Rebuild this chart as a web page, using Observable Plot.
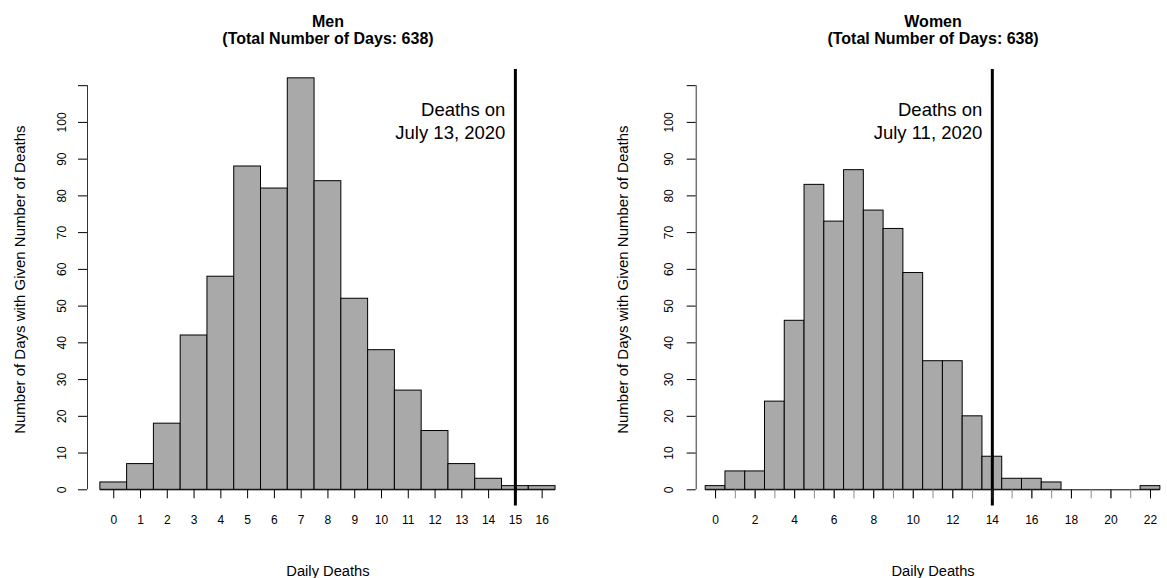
<!DOCTYPE html>
<html><head><meta charset="utf-8">
<script src="https://cdn.jsdelivr.net/npm/d3@7"></script>
<script src="https://cdn.jsdelivr.net/npm/@observablehq/plot@0.6"></script>
<style>
body{margin:0;background:#fff;}
#wrap{display:flex;width:1167px;height:578px;overflow:hidden;}
svg{font-family:"Liberation Sans",Arial,Helvetica,sans-serif;}
</style>
</head><body><div id="wrap"></div>
<script>
// ---- data ----
const menCategories = [0,1,2,3,4,5,6,7,8,9,10,11,12,13,14,15,16];
const menCounts     = [2,7,18,42,58,88,82,112,84,52,38,27,16,7,3,1,1];
const womenCategories = [0,1,2,3,4,5,6,7,8,9,10,11,12,13,14,15,16,17,18,19,20,21,22];
const womenCounts     = [1,5,5,24,46,83,73,87,76,71,59,35,35,20,9,3,3,2,0,0,0,0,1];
const menMarker = 15;
const womenMarker = 14;
const menMarkerLabel = "Deaths on\nJuly 13, 2020";
const womenMarkerLabel = "Deaths on\nJuly 11, 2020";
const menTitle = "Men\n(Total Number of Days: 638)";
const womenTitle = "Women\n(Total Number of Days: 638)";
const menXTicks = [0,1,2,3,4,5,6,7,8,9,10,11,12,13,14,15,16];
const womenXMinorTicks = [0,1,2,3,4,5,6,7,8,9,10,11,12,13,14,15,16,17,18,19,20,21,22];
const womenXMajorTicks = [0,2,4,6,8,10,12,14,16,18,20,22];
const yTicks = [0,10,20,30,40,50,60,70,80,90,100,110];
const yTickLabels = [0,10,20,30,40,50,60,70,80,90,100];
const yMax = 110;
const xLabel = "Daily Deaths";
const yLabel = "Number of Days with Given Number of Deaths";

function panel(cfg) {
  const data = cfg.cats.map((c, i) => ({c, n: cfg.counts[i]}));
  const lo = d3.min(cfg.cats) - 0.5, hi = d3.max(cfg.cats) + 0.5;
  const mid = (lo + hi) / 2;
  const pad = 0.04 * yMax;
  const axisPos = cfg.xDomain[0];
  const FONT = "Liberation Sans, Arial, sans-serif";
  const marks = [
    Plot.ruleY([0], {x1: lo, x2: hi, stroke: "black", strokeWidth: 1}),
    Plot.rectY(data, {x1: d => d.c - 0.5, x2: d => d.c + 0.5, y1: 0, y2: "n",
      fill: "#A9A9A9", stroke: "black", strokeWidth: 1}),
    Plot.ruleX([axisPos], {y1: 0, y2: yMax, stroke: "#333", strokeWidth: 1}),
    Plot.axisY({ticks: yTicks, tickSize: 9, tickFormat: () => "", label: null}),
    Plot.text(yTickLabels, {x: axisPos, y: d => d, text: d => String(d), rotate: -90,
      dx: cfg.yTickDx, textAnchor: "middle", lineAnchor: "bottom", fontSize: 12, fill: "black"}),
    Plot.text([yLabel], {frameAnchor: "left", rotate: -90, dx: cfg.yLabelDx,
      textAnchor: "middle", lineAnchor: "bottom", fontSize: 15, fill: "black"}),
    Plot.ruleX([cfg.marker], {y1: -pad, y2: yMax + pad, stroke: "black", strokeWidth: 3}),
    Plot.text([cfg.markerLabel], {x: cfg.marker, frameAnchor: "top", dx: -10, dy: 29.6,
      textAnchor: "end", lineAnchor: "top", lineHeight: 1.27, fontSize: 18.5, fill: "black"}),
    Plot.text([cfg.title], {x: mid, frameAnchor: "top", dy: -25.7, textAnchor: "middle",
      lineAnchor: "bottom", lineHeight: 1.04, fontSize: 16, fontWeight: "bold", fill: "black"}),
    Plot.text([xLabel], {x: mid, frameAnchor: "bottom", dy: 86, textAnchor: "middle",
      lineAnchor: "bottom", fontSize: 14.7, fill: "black"})
  ];
  if (cfg.minorTicks) {
    marks.push(Plot.axisX({ticks: cfg.minorTicks, tickSize: 9, stroke: "#8a8a8a",
      tickFormat: () => "", label: null}));
  }
  marks.push(Plot.axisX({ticks: cfg.majorTicks, tickSize: 9, tickPadding: 17, fontSize: 12,
    tickFormat: d => String(d), label: null}));
  return Plot.plot({
    width: cfg.width, height: 578,
    marginLeft: cfg.marginLeft, marginRight: cfg.marginRight,
    marginTop: 69, marginBottom: 88.7,
    x: {domain: cfg.xDomain},
    y: {domain: [0, yMax + pad]},
    style: {fontFamily: FONT, background: "white", overflow: "visible", color: "black"},
    marks
  });
}

const wrap = document.getElementById("wrap");
wrap.appendChild(panel({
  cats: menCategories, counts: menCounts, marker: menMarker, markerLabel: menMarkerLabel,
  title: menTitle, majorTicks: menXTicks, width: 583, marginLeft: 87, marginRight: 15.1,
  xDomain: [-0.98, 16.98], yTickDx: -21.5, yLabelDx: -63
}));
wrap.appendChild(panel({
  cats: womenCategories, counts: womenCounts, marker: womenMarker, markerLabel: womenMarkerLabel,
  title: womenTitle, majorTicks: womenXMajorTicks, minorTicks: womenXMinorTicks,
  width: 584, marginLeft: 112.7, marginRight: 1.2,
  xDomain: [-0.98, 22.8], yTickDx: -23.5, yLabelDx: -68
}));
</script>
</body></html>
